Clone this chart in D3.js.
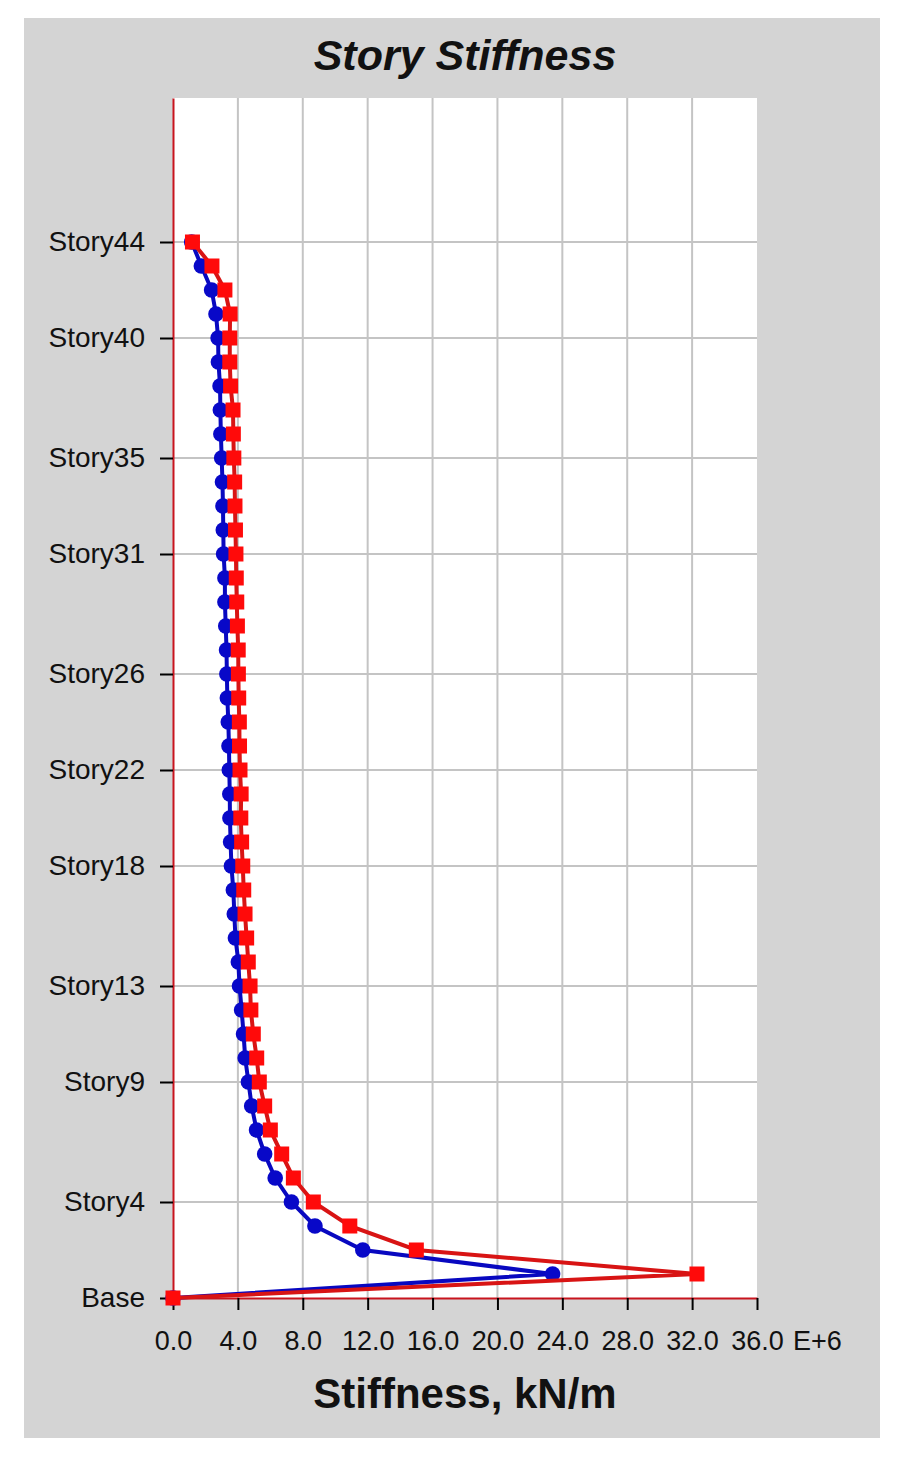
<!DOCTYPE html>
<meta charset="utf-8">

<style>
html,body{
  margin:0;
  background:#fff;
}
svg text{
  font-family: "Liberation Sans", Arial, sans-serif;
  fill:#111;
}
.grid line{
  stroke:#c4c4c4;
  stroke-width:2px;
}
.axis .domain{
  stroke:#c8141e;
  stroke-width:2px;
}
.axis .tick line{
  stroke:#000;
  stroke-width:2px;
}
.axis text{
  font-size:27px;
}
.yaxis text{
  font-size:28px;
}
</style>

<script src="https://d3js.org/d3.v7.min.js"></script>

<body>
<script>

var width = 905,
    height = 1458;

// stories 0 (Base) .. 44, stiffness in E+6 kN/m
var stories = d3.range(0, 45);

var blueValues = [0, 23.4, 11.7, 8.75, 7.3, 6.3, 5.65, 5.15, 4.85, 4.65,
  4.45, 4.35, 4.23, 4.1, 4.03, 3.85, 3.78, 3.72, 3.6, 3.55,
  3.51, 3.5, 3.47, 3.45, 3.41, 3.35, 3.32, 3.3, 3.25, 3.2,
  3.2, 3.12, 3.1, 3.08, 3.05, 3.0, 2.95, 2.92, 2.9, 2.8,
  2.78, 2.65, 2.38, 1.75, 1.15];

var redValues = [0, 32.3, 15.0, 10.9, 8.65, 7.42, 6.7, 6.0, 5.65, 5.32,
  5.16, 4.95, 4.8, 4.75, 4.64, 4.54, 4.44, 4.36, 4.3, 4.23,
  4.18, 4.2, 4.13, 4.1, 4.09, 4.05, 4.03, 4.02, 3.97, 3.93,
  3.9, 3.88, 3.85, 3.82, 3.8, 3.75, 3.72, 3.7, 3.55, 3.5,
  3.5, 3.52, 3.2, 2.4, 1.2];

var xTicks = [0, 4, 8, 12, 16, 20, 24, 28, 32, 36];
var storyTicks = [0, 4, 9, 13, 18, 22, 26, 31, 35, 40, 44];

var svg = d3.select("body").append("svg")
    .attr("width", width)
    .attr("height", height);

// grey panel
svg.append("rect")
    .attr("x", 24).attr("y", 18)
    .attr("width", 856).attr("height", 1420)
    .attr("fill", "#d4d4d4");

var x = d3.scaleLinear().domain([0, 36]).range([173, 757]);
var y = d3.scaleLinear().domain([0, 50]).range([1298, 98]);

// plot area
svg.append("rect")
    .attr("x", x(0)).attr("y", y(50))
    .attr("width", x(36) - x(0)).attr("height", y(0) - y(50))
    .attr("fill", "#fff");

var grid = svg.append("g").attr("class", "grid");

grid.selectAll(".vg")
    .data(xTicks.slice(1, -1))
    .enter().append("line")
    .attr("x1", function(d){ return x(d); })
    .attr("x2", function(d){ return x(d); })
    .attr("y1", y(50))
    .attr("y2", y(0));

grid.selectAll(".hg")
    .data(storyTicks.slice(1))
    .enter().append("line")
    .attr("x1", x(0))
    .attr("x2", x(36))
    .attr("y1", function(d){ return y(d); })
    .attr("y2", function(d){ return y(d); });

// axes
svg.append("g")
    .attr("class", "axis")
    .attr("transform", "translate(0," + y(0) + ")")
    .call(d3.axisBottom(x)
      .tickValues(xTicks)
      .tickFormat(d3.format(".1f"))
      .tickSize(12)
      .tickSizeOuter(0)
      .tickPadding(21));

svg.append("text")
    .attr("x", 793)
    .attr("y", 1350)
    .style("font-size", "27px")
    .text("E+6");

svg.append("g")
    .attr("class", "axis yaxis")
    .attr("transform", "translate(" + x(0) + ",0)")
    .call(d3.axisLeft(y)
      .tickValues(storyTicks)
      .tickFormat(function(d){ return d === 0 ? "Base" : "Story" + d; })
      .tickSize(13)
      .tickSizeOuter(0)
      .tickPadding(15));

// series
var line = d3.line()
    .x(function(d){ return x(d[1]); })
    .y(function(d){ return y(d[0]); });

var blueData = stories.map(function(s, i){ return [s, blueValues[i]]; });
var redData = stories.map(function(s, i){ return [s, redValues[i]]; });

svg.append("path")
    .datum(blueData)
    .attr("fill", "none")
    .attr("stroke", "#0808c0")
    .attr("stroke-width", 4)
    .attr("d", line);

svg.selectAll(".dot")
    .data(blueData)
    .enter().append("circle")
    .attr("class", "dot")
    .attr("cx", function(d){ return x(d[1]); })
    .attr("cy", function(d){ return y(d[0]); })
    .attr("r", 7.8)
    .attr("fill", "#0808c8");

svg.append("path")
    .datum(redData)
    .attr("fill", "none")
    .attr("stroke", "#d81414")
    .attr("stroke-width", 4)
    .attr("d", line);

svg.selectAll(".sq")
    .data(redData)
    .enter().append("rect")
    .attr("class", "sq")
    .attr("x", function(d){ return x(d[1]) - 7.5; })
    .attr("y", function(d){ return y(d[0]) - 7.5; })
    .attr("width", 15)
    .attr("height", 15)
    .attr("fill", "#ff0a0a");

// titles
svg.append("text")
    .attr("x", 465)
    .attr("y", 70)
    .attr("text-anchor", "middle")
    .style("font-size", "43px")
    .style("font-weight", "bold")
    .style("font-style", "italic")
    .text("Story Stiffness");

svg.append("text")
    .attr("x", 465)
    .attr("y", 1408)
    .attr("text-anchor", "middle")
    .style("font-size", "42px")
    .style("font-weight", "bold")
    .text("Stiffness, kN/m");

</script>
</body>
</html>
